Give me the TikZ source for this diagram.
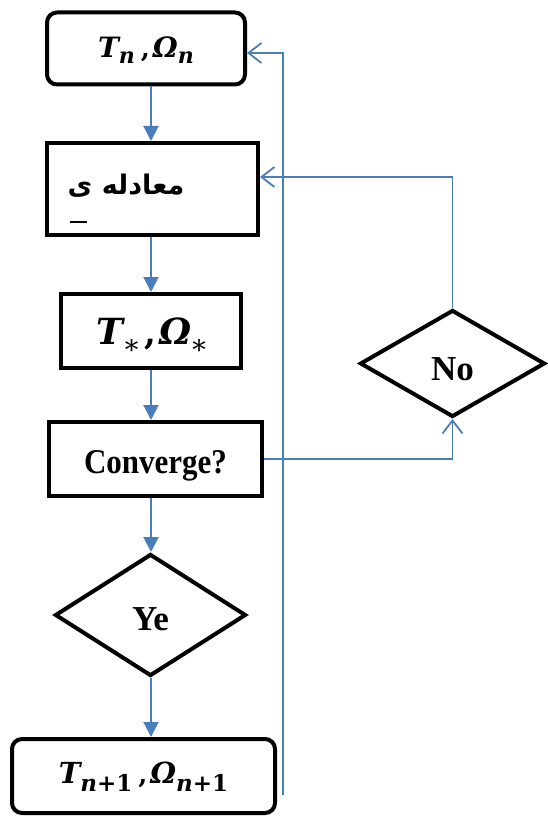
\documentclass[tikz,border=0pt]{standalone}
\usepackage{fontspec}
\setmainfont{Liberation Serif}
\newfontfamily\arabicfont[Script=Arabic]{DejaVu Sans}
\newfontfamily\mfont{DejaVu Serif}
\TeXXeTstate=1
\usetikzlibrary{shapes.geometric,arrows.meta}
\definecolor{lnblue}{HTML}{4A7EBB}
\newcommand\mv[5]{{\fontsize{#1}{#1}\selectfont\mfont\bfseries\itshape #2}\raisebox{-#5}{\fontsize{#3}{#3}\selectfont\mfont\bfseries #4}}
\newcommand\mcomma[1]{\hspace{6pt}{\fontsize{#1}{#1}\selectfont\mfont\bfseries ,}\hspace{3pt}}
\begin{document}
\begin{tikzpicture}[x=1pt,y=-1pt,
  boxnode/.style={draw=black, line width=4pt, inner sep=0pt, align=center, font=\bfseries, text depth=0pt},
  rbox/.style={boxnode, rounded corners=10pt},
  decide/.style={draw=black, line width=4pt, diamond, inner sep=0pt, text depth=0pt, font=\fontsize{35}{40}\selectfont\bfseries},
  flow/.style={draw=lnblue, line width=2pt, -{Triangle[length=15pt,width=15pt]}},
  back/.style={draw=lnblue, line width=1.8pt, -{Straight Barb[length=13pt,width=20pt]}},
]
\useasboundingbox (0,0) rectangle (547,818);
\coordinate (spine) at (151,0);
\node[rbox, minimum width=198pt, minimum height=72pt, text height=19pt] (b1) at (146,48.5)
  {\mv{28}{T}{22}{\itshape n}{6pt}\mcomma{26}\mv{28}{Ω}{22}{\itshape n}{6pt}};
\node[boxnode, minimum width=211pt, minimum height=92pt] (b2) at (152.5,189) {};
\node[inner sep=0pt, font=\fontsize{27}{30}\arabicfont\bfseries] (b2t) at (126,186) {\beginR معادله ی\endR};
\draw[line width=1.5pt] (70,222) -- (87,222);
\node[boxnode, minimum width=180pt, minimum height=74pt, text height=26pt] (b3) at (151,331)
  {\mv{36}{T}{27}{\hspace{2pt}\mdseries *}{15pt}\mcomma{34}\mv{36}{Ω}{27}{\hspace{1pt}\mdseries *}{15pt}};
\node[boxnode, minimum width=213pt, minimum height=74pt, text height=28pt, font=\fontsize{31}{34}\selectfont\bfseries] (b4) at (155.5,459) {\scalebox{1}[1.12]{Converge?}};
\node[decide, minimum width=191pt, minimum height=122pt, text height=30pt] (ye) at (150.5,615) {Ye};
\node[rbox, minimum width=263pt, minimum height=74pt, text height=14pt] (b5) at (143.5,776)
  {\mv{29}{T}{23}{\itshape n\upshape +1}{8pt}\mcomma{26}\mv{29}{Ω}{23}{\itshape n\upshape +1}{8pt}};
\node[decide, minimum width=185pt, minimum height=107pt, text height=34pt] (no) at (452.5,363.5) {No};
\coordinate (rl) at (283,795);
\draw[flow] (b1.south -| spine) -- (b2.north -| spine);
\draw[flow] (b2.south -| spine) -- (b3.north -| spine);
\draw[flow] (b3.south -| spine) -- (b4.north -| spine);
\draw[flow] (b4.south -| spine) -- (ye.north -| spine);
\draw[flow] (ye.south -| spine) -- (b5.north -| spine);
\draw[back] (rl) |- ([yshift=-4.5pt]b1.east);
\draw[back] (no.north) |- ([yshift=12pt]b2.east);
\draw[back] (b4.east) -| (no.south);
\end{tikzpicture}
\end{document}
